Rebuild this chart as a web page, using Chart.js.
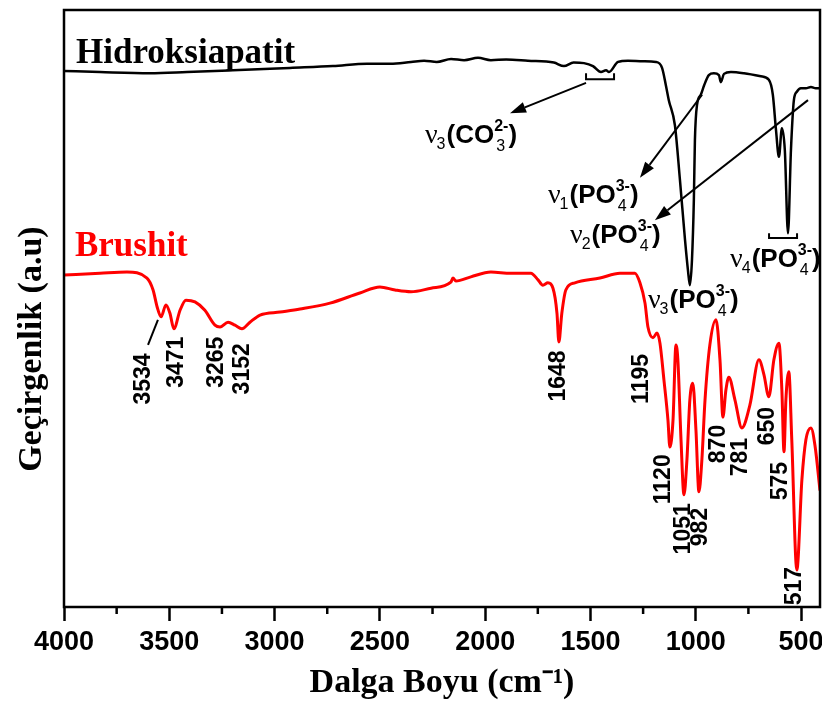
<!DOCTYPE html>
<html><head><meta charset="utf-8">
<script src="https://cdn.jsdelivr.net/npm/chart.js@4.4.1/dist/chart.umd.min.js"></script>
<style>html,body{margin:0;padding:0;background:#fff;}</style>
</head><body>
<canvas id="c" width="822" height="706" style="width:822px;height:706px;display:block"></canvas>
<script>
// ---- Data (wavenumber in cm-1, transmittance in a.u.) ----
const haWavenumber = [4000,3829,3592,3416,3198,2927,2723,2561,2450,2352,2290,2230,2162,2100,2034,1973,1900,1797,1674,1626,1580,1531,1488,1450,1426,1412,1369,1322,1250,1189,1160,1142,1128,1099,1075,1051,1037,1028,1018,1009,1004,994,976,961,938,914,890,881,866,833,771,691,653,634,619,605,591,577,562,548,534,520,501,477,453,430,411];
const haValues     = [89.8,89.6,89.4,89.6,89.9,90.3,90.6,91.0,91.0,91.3,91.5,91.3,91.8,91.6,92.0,91.6,91.7,91.5,91.2,90.6,91.2,91.1,90.6,89.6,89.9,89.6,91.3,91.5,91.4,91.3,90.3,87.4,84.9,80.7,71.5,61.5,56.4,53.9,58.1,68.2,78.2,84.1,85.8,87.3,89.1,89.4,89.1,87.9,89.3,89.6,89.4,88.9,88.3,85.8,79.9,75.4,80.2,76.5,62.6,76.5,84.9,86.3,86.9,86.9,87.1,86.9,86.9];

const brWavenumber = [4000,3829,3701,3606,3577,3558,3539,3516,3497,3478,3449,3421,3378,3331,3283,3259,3221,3188,3155,3117,3069,2974,2879,2737,2595,2500,2428,2352,2257,2163,2153,2139,2068,1973,1878,1783,1749,1726,1702,1678,1659,1650,1636,1617,1574,1455,1360,1289,1265,1241,1227,1203,1184,1170,1151,1132,1123,1108,1094,1085,1070,1056,1042,1028,1014,999,985,971,956,933,904,885,871,857,843,814,781,743,700,676,653,629,605,591,581,572,558,544,520,496,477,453,434,410];
const brValues     = [55.6,55.9,56.1,55.1,53.1,50.3,48.6,50.6,49.2,46.6,49.7,51.4,51.1,49.7,47.2,46.9,47.7,47.2,46.6,47.7,48.9,49.4,49.9,50.9,52.6,53.6,53.1,52.8,53.4,54.4,55.1,54.6,55.3,56.1,55.9,55.9,54.8,53.9,54.3,53.4,49.2,44.4,49.2,53.1,54.3,55.1,55.9,55.9,54.3,50.9,46.9,45.1,45.9,44.2,38.0,31.3,26.8,31.3,43.9,41.4,28.0,18.8,24.6,34.7,37.5,29.6,19.3,24.6,34.7,43.9,48.1,41.4,31.8,36.3,38.5,34.7,30.0,33.8,41.4,38.9,35.2,41.4,44.2,36.3,26.0,34.7,39.4,28.0,6.2,21.3,28.0,30.0,27.1,19.5];

const seriesNames = ['Hidroksiapatit', 'Brushit'];
const xTickValues = [4000,3500,3000,2500,2000,1500,1000,500];
const xMinorTickValues = [3750,3250,2750,2250,1750,1250,750];
const xTitle = 'Dalga Boyu (cm\u207B\u00B9)';
const yTitle = 'Ge\u00E7irgenlik (a.u)';

// peak labels on the Brushit spectrum
const peakLabels     = ['3534','3471','3265','3152','1648','1195','1120','1051','982','870','781','650','575','517'];
const peakLabelW     = [3625,3468,3278,3155,1654,1260,1156,1061,980,895,790,662,600,534];
const peakLabelLevel = [38.2,41.0,41.0,39.9,38.7,38.2,21.4,13.1,13.4,27.3,25.1,30.3,21.1,3.5];

// band assignment labels
const bandNu    = ['3','1','2','4','3'];
const bandGroup = ['CO','PO','PO','PO','PO'];
const bandSub   = ['3','4','4','4','4'];
const bandSup   = ['2-','3-','3-','3-','3-'];
const bandW     = [2286,1702,1597,837,1227];
const bandLevel = [77.7,67.7,61.0,57.0,50.1];

// arrows [fromW, fromT, toW, toT]
const arrows = [[1521,87.8,1882,82.7],[970,85.8,1265,71.9],[467,84.9,1194,64.8]];
// brackets [w1, w2, level, tickTop]
const brackets = [[1521,1388,88.4,89.4],[652,519,61.8,62.6]];
// leader line
const leaders = [[3601,43.9,3554,48.1]];
// series label anchors
const seriesLabelW = [3943, 3948];
const seriesLabelLevel = [91.1, 58.8];
const yTitleLevel = 43.2;

const SANS = '"Liberation Sans", Arial, sans-serif';
const SERIF = '"Liberation Serif", "Times New Roman", serif';

const annot = {
  id: 'annot',
  afterDatasetsDraw(chart) {
    const {ctx, chartArea: ca, scales: {x, y}} = chart;
    const P = (w, t) => [x.getPixelForValue(w), y.getPixelForValue(t)];
    ctx.save();
    // frame
    ctx.strokeStyle = '#000'; ctx.fillStyle = '#000'; ctx.lineWidth = 2.5;
    ctx.strokeRect(ca.left, ca.top, ca.right - ca.left, ca.bottom - ca.top);
    // minor ticks
    xMinorTickValues.forEach(v => {
      const px = x.getPixelForValue(v);
      ctx.beginPath(); ctx.moveTo(px, ca.bottom); ctx.lineTo(px, ca.bottom + 7); ctx.stroke();
    });
    // series labels
    ctx.font = 'bold 35px ' + SERIF; ctx.textBaseline = 'alphabetic'; ctx.textAlign = 'left';
    seriesNames.forEach((n, i) => {
      const [px, py] = P(seriesLabelW[i], seriesLabelLevel[i]);
      ctx.fillStyle = i === 0 ? '#000' : '#ff0000';
      ctx.fillText(n, px, py);
    });
    // peak labels
    ctx.fillStyle = '#000';
    ctx.font = 'bold 23px ' + SANS; ctx.textAlign = 'center'; ctx.textBaseline = 'middle';
    peakLabels.forEach((txt, i) => {
      const [px, py] = P(peakLabelW[i], peakLabelLevel[i]);
      ctx.save(); ctx.translate(px, py); ctx.rotate(-Math.PI / 2); ctx.fillText(txt, 0, 1); ctx.restore();
    });
    // leader lines
    ctx.lineWidth = 2;
    leaders.forEach(l => {
      const [a, b] = P(l[0], l[1]); const [c, d] = P(l[2], l[3]);
      ctx.beginPath(); ctx.moveTo(a, b); ctx.lineTo(c, d); ctx.stroke();
    });
    // brackets
    brackets.forEach(bk => {
      const [a, b] = P(bk[0], bk[2]); const [c] = P(bk[1], bk[2]); const [, t] = P(bk[0], bk[3]);
      ctx.beginPath(); ctx.moveTo(a, t); ctx.lineTo(a, b); ctx.lineTo(c, b); ctx.lineTo(c, t); ctx.stroke();
    });
    // arrows
    arrows.forEach(ar => {
      const [a, b] = P(ar[0], ar[1]); const [c, d] = P(ar[2], ar[3]);
      const ang = Math.atan2(d - b, c - a);
      const L = 16, H = 5.5;
      const bx = c - L * Math.cos(ang), by = d - L * Math.sin(ang);
      ctx.lineWidth = 2;
      ctx.beginPath(); ctx.moveTo(a, b); ctx.lineTo(bx, by); ctx.stroke();
      ctx.beginPath(); ctx.moveTo(c, d);
      ctx.lineTo(bx + H * Math.sin(ang), by - H * Math.cos(ang));
      ctx.lineTo(bx - H * Math.sin(ang), by + H * Math.cos(ang));
      ctx.closePath(); ctx.fill();
    });
    // band labels
    ctx.textAlign = 'left'; ctx.textBaseline = 'alphabetic';
    bandNu.forEach((nu, i) => {
      let [px, py] = P(bandW[i], bandLevel[i]);
      ctx.font = '28px ' + SERIF; ctx.fillText('\u03BD', px, py);
      px += ctx.measureText('\u03BD').width - 1;
      ctx.font = '16px ' + SANS; ctx.fillText(nu, px, py + 6);
      px += ctx.measureText(nu).width + 1;
      ctx.font = 'bold 26px ' + SANS;
      const g = '(' + bandGroup[i];
      ctx.fillText(g, px, py);
      px += ctx.measureText(g).width;
      ctx.font = 'bold 16px ' + SANS;
      ctx.fillText(bandSup[i], px, py - 12);
      const w1 = ctx.measureText(bandSup[i]).width;
      ctx.font = '16px ' + SANS;
      ctx.fillText(bandSub[i], px + 2, py + 8);
      const w2 = ctx.measureText(bandSub[i]).width + 2;
      px += Math.max(w1, w2);
      ctx.font = 'bold 26px ' + SANS; ctx.fillText(')', px, py);
    });
    // y title
    ctx.font = 'bold 34px ' + SERIF; ctx.textAlign = 'center'; ctx.textBaseline = 'middle';
    ctx.save(); ctx.translate(ca.left / 2, y.getPixelForValue(yTitleLevel)); ctx.rotate(-Math.PI / 2);
    ctx.fillText(yTitle, 0, 0); ctx.restore();
    ctx.restore();
  }
};

const toPts = (ws, vs) => ws.map((w, i) => ({x: w, y: vs[i]}));

new Chart(document.getElementById('c'), {
  type: 'line',
  data: {
    datasets: [
      {label: seriesNames[0], data: toPts(haWavenumber, haValues), borderColor: '#000', borderWidth: 2.5,
       pointRadius: 0, cubicInterpolationMode: 'monotone', fill: false},
      {label: seriesNames[1], data: toPts(brWavenumber, brValues), borderColor: '#ff0000', borderWidth: 3,
       pointRadius: 0, cubicInterpolationMode: 'monotone', fill: false}
    ]
  },
  options: {
    responsive: false, animation: false, devicePixelRatio: 1,
    layout: {padding: {top: 10, right: 2, left: 0, bottom: 0}},
    plugins: {legend: {display: false}, tooltip: {enabled: false}},
    scales: {
      x: {
        type: 'linear', reverse: true, min: 410, max: 4000,
        afterBuildTicks(s) { s.ticks = xTickValues.map(v => ({value: v})); },
        afterFit(s) { s.height = 99; s.paddingLeft = 0; s.paddingRight = 0; },
        ticks: {autoSkip: false, maxRotation: 0, minRotation: 0, padding: 5,
                color: '#000', font: {family: SANS, weight: 'bold', size: 27}, callback: v => String(v)},
        grid: {drawOnChartArea: false, drawTicks: true, tickLength: 14, tickWidth: 2.5, tickColor: '#000'},
        border: {display: false},
        title: {display: true, text: xTitle, color: '#000', font: {family: SERIF, weight: 'bold', size: 34},
                padding: {top: 0, bottom: 2}}
      },
      y: {
        min: 0, max: 100,
        afterFit(s) { s.width = 64; s.paddingTop = 0; s.paddingBottom = 0; },
        ticks: {display: false}, grid: {display: false}, border: {display: false}
      }
    }
  },
  plugins: [annot]
});
</script>
</body></html>
